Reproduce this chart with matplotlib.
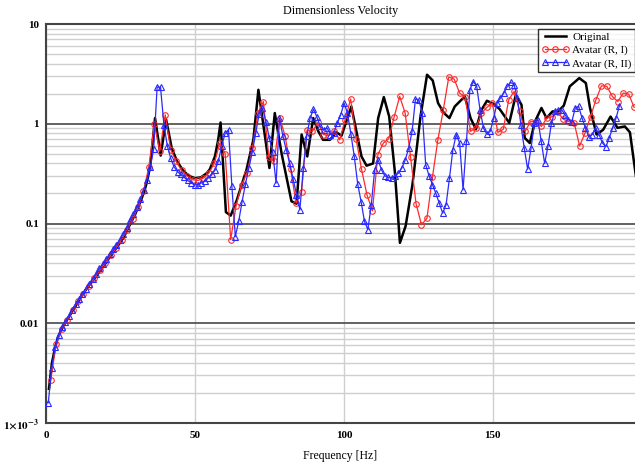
import numpy as np
import matplotlib
matplotlib.use('Agg')
import matplotlib.pyplot as plt
from matplotlib.ticker import LogLocator, NullFormatter

plt.rcParams['font.family'] = 'Liberation Serif'
plt.rcParams['mathtext.fontset'] = 'stix'

# Original response: irregular vertices (Hz, value)
orig_freq = [1, 2, 3, 4, 5, 6, 7, 8, 9, 10, 12, 14, 16, 18, 20, 22, 24, 26, 28, 30,
             32, 33, 34, 35, 36.6, 38.5, 40.3, 42.2, 44, 46, 48, 50, 52, 54, 55, 56.7, 57.8, 58.6, 60.4, 62,
             64, 67.3, 69.6, 71.3, 75, 76.8, 79.1, 82.4, 84.1, 85.8, 87.7, 89.7, 91.4, 93, 95.3, 97.5, 99.2, 102.5, 105.9, 107.6,
             109.8, 111.5, 113.4, 115.2, 117.1, 118.8, 120.7, 123, 125.7, 127.9, 129.8, 131.6, 133.6, 135.4, 137.2, 140.6, 142.5, 144.3, 146.2, 148,
             150.1, 152.3, 155.5, 157.7, 159.6, 160.7, 162.4, 164.1, 166.3, 168, 170, 171.9, 173.8, 175.8, 179, 181.2, 182.6, 184.8, 187, 189.5,
             191.8, 194.3, 196, 198]
orig_val = [0.0022, 0.0040, 0.0056, 0.0072, 0.0084, 0.0096, 0.0107, 0.012, 0.0135, 0.015, 0.0188, 0.023, 0.0275, 0.033, 0.040, 0.049, 0.059, 0.072, 0.095, 0.125,
            0.175, 0.21, 0.27, 0.38, 1.14, 0.48, 1.11, 0.57, 0.42, 0.34, 0.30, 0.285, 0.29, 0.32, 0.35, 0.47, 0.69, 1.03, 0.13, 0.12,
            0.17, 0.346, 0.69, 2.19, 0.36, 1.28, 0.5, 0.167, 0.158, 0.78, 0.47, 1.14, 0.84, 0.69, 0.69, 0.82, 0.76, 1.49, 0.47, 0.38,
            0.40, 1.14, 1.85, 1.18, 0.33, 0.064, 0.094, 0.245, 1.18, 3.1, 2.72, 1.61, 1.28, 1.14, 1.49, 1.88, 1.14, 0.88, 1.38, 1.7,
            1.59, 1.40, 1.02, 1.95, 1.55, 0.72, 0.64, 1.05, 1.44, 1.14, 1.33, 1.33, 1.52, 2.37, 2.87, 2.56, 1.44, 0.78, 0.87, 1.18,
            0.91, 0.94, 0.82, 0.3]

# Avatar (R, I): sampled every 1.83 Hz from 1.6 Hz
avatar_r1 = [0.0027, 0.0062, 0.0088, 0.0108, 0.0136, 0.0166, 0.0198, 0.0238, 0.0283, 0.0338,
             0.040, 0.048, 0.057, 0.069, 0.086, 0.11, 0.145, 0.21, 0.37, 1.0,
             0.53, 1.23, 0.55, 0.42, 0.34, 0.30, 0.275, 0.27, 0.285, 0.32,
             0.40, 0.64, 0.50, 0.069, 0.151, 0.245, 0.32, 0.57, 1.28, 1.67,
             0.46, 0.42, 1.14, 0.75, 0.35, 0.16, 0.205, 0.86, 0.84, 1.03,
             0.78, 0.76, 0.85, 0.69, 1.1, 1.77, 0.71, 0.35, 0.194, 0.134,
             0.49, 0.64, 0.71, 1.18, 1.88, 1.28, 0.46, 0.158, 0.097, 0.113,
             0.29, 0.69, 1.38, 2.94, 2.80, 2.03, 1.85, 0.84, 0.91, 1.28,
             1.46, 1.61, 0.82, 0.88, 1.74, 2.11, 1.33, 0.84, 1.05, 1.05,
             0.94, 1.14, 1.18, 1.30, 1.11, 1.05, 1.02, 0.60, 0.81, 1.18,
             1.74, 2.40, 2.37, 1.88, 1.67, 2.03, 1.98, 1.46]

# Avatar (R, II): sampled every 1.141 Hz from 0.79 Hz
avatar_r2 = [0.0016, 0.0036, 0.0058, 0.0076, 0.0091, 0.0104, 0.0118, 0.0137, 0.0155, 0.0175,
             0.0197, 0.0222, 0.025, 0.0278, 0.031, 0.0355, 0.039, 0.044, 0.049, 0.055,
             0.061, 0.069, 0.078, 0.091, 0.108, 0.125, 0.148, 0.175, 0.215, 0.27,
             0.37, 0.56, 2.33, 2.33, 0.98, 0.60, 0.45, 0.37, 0.33, 0.31,
             0.29, 0.27, 0.255, 0.245, 0.245, 0.255, 0.265, 0.285, 0.31, 0.34,
             0.42, 0.60, 0.80, 0.87, 0.235, 0.074, 0.105, 0.166, 0.25, 0.36,
             0.52, 0.80, 1.25, 1.44, 1.05, 0.72, 0.52, 0.254, 1.14, 0.75,
             0.55, 0.40, 0.28, 0.194, 0.137, 0.36, 0.75, 1.14, 1.40, 1.17,
             0.94, 0.87, 0.905, 0.78, 0.81, 1.02, 1.23, 1.61, 1.28, 0.79,
             0.47, 0.25, 0.166, 0.105, 0.087, 0.154, 0.346, 0.435, 0.346, 0.30,
             0.29, 0.285, 0.30, 0.32, 0.36, 0.435, 0.57, 0.84, 1.77, 1.74,
             1.28, 0.39, 0.30, 0.245, 0.20, 0.16, 0.127, 0.154, 0.285, 0.55,
             0.78, 0.64, 0.218, 0.665, 2.19, 2.65, 2.37, 1.38, 0.905, 0.79,
             0.84, 1.14, 1.61, 1.81, 2.03, 2.37, 2.6, 2.46, 1.81, 0.98,
             0.57, 0.35, 0.57, 1.02, 1.10, 0.665, 0.40, 0.60, 1.02, 1.33,
             1.38, 1.38, 1.23, 1.10, 1.05, 1.44, 1.49, 1.14, 0.905, 0.74,
             0.78, 0.905, 0.78, 0.64, 0.59, 0.72, 0.905, 1.14, 1.52]

f_r1 = 1.6 + 1.83 * np.arange(len(avatar_r1))
f_r2 = 0.79 + 1.141 * np.arange(len(avatar_r2))

x_ticks = [0, 50, 100, 150]
y_ticks = [1e-3, 1e-2, 0.1, 1, 10]
y_labels = [r'$\mathbf{1{\times}10^{-3}}$', '0.01', '0.1', '1', '10']

fig = plt.figure(figsize=(6.35, 4.67), dpi=100)
ax = fig.add_axes([0.0724, 0.0942, 0.9276, 0.8544])

ax.plot(orig_freq, orig_val, color='black', lw=1.8, label='Original', zorder=3)
ax.plot(f_r1, avatar_r1, color='#ff2a2a', lw=0.9, marker='o', ms=4, mfc='none',
        mew=0.8, label='Avatar (R, I)', zorder=4)
ax.plot(f_r2, avatar_r2, color='#2a2aff', lw=0.9, marker='^', ms=4, mfc='none',
        mew=0.8, label='Avatar (R, II)', zorder=5)

ax.set_yscale('log')
ax.set_xlim(0, 197.7)
ax.set_ylim(1e-3, 10)
ax.set_xticks(x_ticks)
ax.set_xticklabels([str(t) for t in x_ticks], fontweight='bold', fontsize=8)
ax.set_yticks(y_ticks)
ax.set_yticklabels(y_labels, fontweight='bold', fontsize=8)
ax.yaxis.set_minor_locator(LogLocator(base=10, subs=np.arange(2, 10)))
ax.yaxis.set_minor_formatter(NullFormatter())
ax.tick_params(which='both', length=0)
ax.tick_params(axis='x', pad=6)
ax.tick_params(axis='y', pad=5)

ax.set_axisbelow(True)
ax.grid(which='minor', axis='y', color='#cfcfcf', lw=1.0)
ax.grid(which='major', axis='y', color='#555555', lw=1.3)
ax.grid(which='major', axis='x', color='#cfcfcf', lw=1.0)

for side in ['left', 'bottom', 'top']:
    ax.spines[side].set_color('#444444')
    ax.spines[side].set_linewidth(1.5)
ax.spines['right'].set_visible(False)

ax.set_title('Dimensionless Velocity', fontsize=8.7, pad=7)
ax.set_xlabel('Frequency [Hz]', fontsize=8.5, labelpad=7)

leg = ax.legend(loc='upper right', bbox_to_anchor=(1.0, 0.988), numpoints=3,
                fontsize=8, frameon=True, fancybox=False, borderaxespad=0,
                handlelength=2.5, handletextpad=0.3, labelspacing=0.3,
                borderpad=0.3)
leg.get_frame().set_edgecolor('black')
leg.get_frame().set_linewidth(1.0)

fig.savefig('out.png', dpi=100)
